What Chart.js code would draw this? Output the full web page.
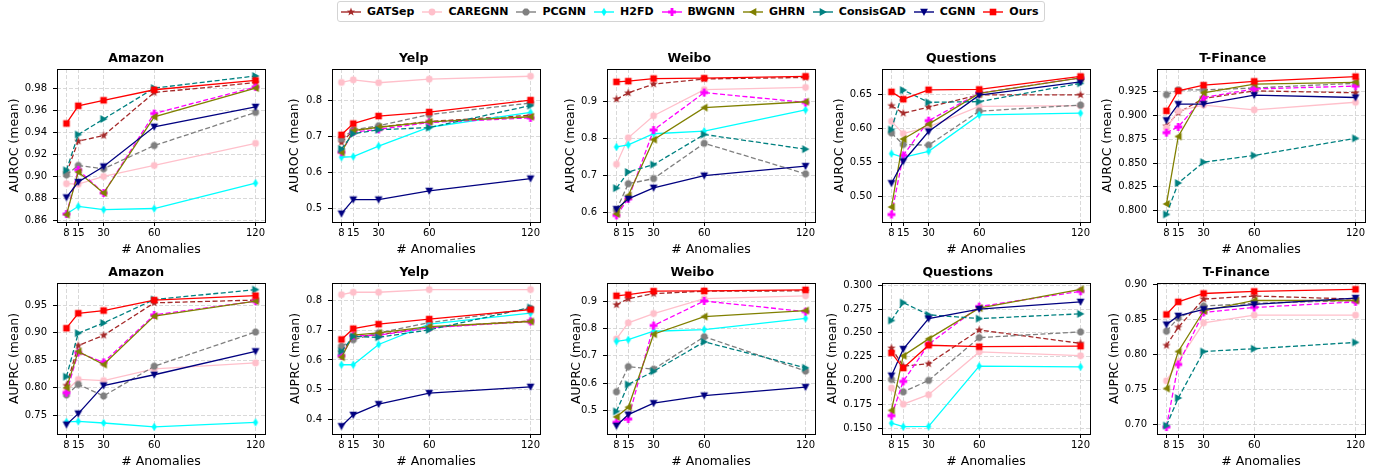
<!DOCTYPE html>
<html>
<head>
<meta charset="utf-8">
<script src="https://cdn.jsdelivr.net/npm/chart.js@4.4.0/dist/chart.umd.min.js"></script>
<style>
  body { margin: 0; background: #fff; width: 1387px; height: 474px; position: relative; overflow: hidden; }
  .panel { position: absolute; }
  #legend {
    position: absolute; left: 337px; top: 1px; height: 21px; box-sizing: border-box;
    border: 1px solid #d4d4d4; border-radius: 3px; display: flex; align-items: center;
    padding: 0 5px 0 3px; font: bold 11px 'DejaVu Sans', sans-serif; white-space: nowrap; color: #000;
  }
  #legend .item { display: flex; align-items: center; margin-right: 8px; }
  #legend .item:last-child { margin-right: 0; }
  #legend canvas { margin-right: 6px; }
</style>
</head>
<body>
<div id="legend"></div>
<script>
// x positions (number of anomalies)
const anomalies = [8, 15, 30, 60, 120];
const methods = ["GATSep", "CAREGNN", "PCGNN", "H2FD", "BWGNN", "GHRN", "ConsisGAD", "CGNN", "Ours"];

// values per panel, one row per method (same order as methods)
const amazonAuroc = [
  [0.903, 0.932, 0.937, 0.976, 0.985],
  [0.8935, 0.893, 0.900, 0.910, 0.930],
  [0.9015, 0.910, 0.907, 0.928, 0.958],
  [0.866, 0.873, 0.870, 0.871, 0.894],
  [0.866, 0.906, 0.885, 0.957, 0.981],
  [0.8655, 0.904, 0.885, 0.954, 0.980],
  [0.9056, 0.938, 0.952, 0.980, 0.991],
  [0.881, 0.895, 0.909, 0.945, 0.963],
  [0.948, 0.964, 0.969, 0.9785, 0.987]
];
const yelpAuroc = [
  [0.683, 0.716, 0.725, 0.741, 0.758],
  [0.849, 0.856, 0.848, 0.858, 0.866],
  [0.693, 0.718, 0.729, 0.760, 0.792],
  [0.642, 0.644, 0.673, 0.725, 0.766],
  [0.656, 0.712, 0.719, 0.738, 0.751],
  [0.655, 0.716, 0.725, 0.740, 0.754],
  [0.665, 0.707, 0.718, 0.724, 0.785],
  [0.486, 0.525, 0.525, 0.549, 0.583],
  [0.704, 0.735, 0.756, 0.767, 0.800]
];
const weiboAuroc = [
  [0.907, 0.924, 0.948, 0.962, 0.966],
  [0.730, 0.802, 0.862, 0.933, 0.939],
  [0.606, 0.677, 0.691, 0.787, 0.704],
  [0.777, 0.783, 0.813, 0.820, 0.878],
  [0.591, 0.636, 0.823, 0.925, 0.898],
  [0.595, 0.645, 0.797, 0.884, 0.900],
  [0.665, 0.709, 0.729, 0.811, 0.771],
  [0.608, 0.636, 0.666, 0.699, 0.725],
  [0.954, 0.956, 0.963, 0.964, 0.969]
];
const questionsAuroc = [
  [0.633, 0.622, 0.631, 0.649, 0.649],
  [0.610, 0.592, 0.602, 0.632, 0.633],
  [0.593, 0.576, 0.575, 0.625, 0.634],
  [0.5625, 0.557, 0.566, 0.6195, 0.622],
  [0.473, 0.560, 0.611, 0.6515, 0.674],
  [0.484, 0.584, 0.606, 0.651, 0.674],
  [0.598, 0.656, 0.638, 0.639, 0.666],
  [0.519, 0.551, 0.595, 0.6485, 0.668],
  [0.6534, 0.6426, 0.6564, 0.657, 0.676]
];
const tfinanceAuroc = [
  [0.889, 0.903, 0.918, 0.926, 0.924],
  [0.887, 0.905, 0.911, 0.906, 0.914],
  [0.922, 0.927, 0.927, 0.929, 0.934],
  [null, null, null, null, null],
  [0.882, 0.888, 0.919, 0.928, 0.931],
  [0.807, 0.878, 0.924, 0.933, 0.935],
  [0.796, 0.829, 0.851, 0.858, 0.876],
  [0.895, 0.912, 0.912, 0.9215, 0.919],
  [0.905, 0.926, 0.932, 0.936, 0.941]
];
const amazonAuprc = [
  [0.804, 0.8765, 0.895, 0.954, 0.959],
  [0.795, 0.815, 0.813, 0.834, 0.845],
  [0.787, 0.806, 0.785, 0.839, 0.901],
  [0.738, 0.739, 0.736, 0.729, 0.737],
  [0.791, 0.864, 0.846, 0.932, 0.957],
  [0.800, 0.866, 0.842, 0.930, 0.957],
  [0.820, 0.899, 0.9175, 0.960, 0.978],
  [0.733, 0.753, 0.804, 0.8235, 0.866],
  [0.908, 0.935, 0.940, 0.959, 0.967]
];
const yelpAuprc = [
  [0.626, 0.677, 0.685, 0.709, 0.731],
  [0.819, 0.827, 0.827, 0.836, 0.836],
  [0.646, 0.668, 0.691, 0.725, 0.772],
  [0.584, 0.584, 0.652, 0.720, 0.757],
  [0.614, 0.681, 0.683, 0.708, 0.729],
  [0.609, 0.683, 0.691, 0.712, 0.729],
  [0.629, 0.679, 0.676, 0.701, 0.776],
  [0.378, 0.416, 0.452, 0.489, 0.510],
  [0.669, 0.705, 0.720, 0.737, 0.769]
];
const weiboAuprc = [
  [0.887, 0.909, 0.928, 0.937, 0.938],
  [0.762, 0.821, 0.855, 0.910, 0.920],
  [0.568, 0.660, 0.651, 0.770, 0.644],
  [0.753, 0.759, 0.790, 0.796, 0.837],
  [0.456, 0.468, 0.811, 0.901, 0.862],
  [0.476, 0.511, 0.779, 0.844, 0.866],
  [0.496, 0.595, 0.643, 0.751, 0.656],
  [0.443, 0.484, 0.526, 0.554, 0.585],
  [0.920, 0.924, 0.937, 0.938, 0.942]
];
const questionsAuprc = [
  [0.234, 0.215, 0.2175, 0.253, 0.239],
  [0.192, 0.175, 0.185, 0.230, 0.226],
  [0.201, 0.188, 0.200, 0.245, 0.251],
  [0.155, 0.1514, 0.1517, 0.215, 0.2143],
  [0.163, 0.199, 0.238, 0.2776, 0.2937],
  [0.1685, 0.226, 0.2437, 0.276, 0.2958],
  [0.263, 0.2818, 0.269, 0.265, 0.270],
  [0.205, 0.233, 0.265, 0.275, 0.2825],
  [0.229, 0.213, 0.237, 0.2355, 0.236]
];
const tfinanceAuprc = [
  [0.8126, 0.8387, 0.879, 0.8834, 0.879],
  [0.762, 0.790, 0.845, 0.856, 0.856],
  [0.833, 0.852, 0.869, 0.873, 0.877],
  [null, null, null, null, null],
  [0.696, 0.7855, 0.860, 0.867, 0.875],
  [0.751, 0.804, 0.862, 0.877, 0.877],
  [0.698, 0.7375, 0.804, 0.808, 0.817],
  [0.8425, 0.855, 0.8644, 0.8715, 0.8805],
  [0.857, 0.875, 0.887, 0.890, 0.893]
];

// y tick labels per panel
const amazonAurocTicks = [0.86, 0.88, 0.90, 0.92, 0.94, 0.96, 0.98];
const yelpAurocTicks = [0.5, 0.6, 0.7, 0.8];
const weiboAurocTicks = [0.6, 0.7, 0.8, 0.9];
const questionsAurocTicks = [0.50, 0.55, 0.60, 0.65];
const tfinanceAurocTicks = [0.800, 0.825, 0.850, 0.875, 0.900, 0.925];
const amazonAuprcTicks = [0.75, 0.80, 0.85, 0.90, 0.95];
const yelpAuprcTicks = [0.4, 0.5, 0.6, 0.7, 0.8];
const weiboAuprcTicks = [0.5, 0.6, 0.7, 0.8, 0.9];
const questionsAuprcTicks = [0.150, 0.175, 0.200, 0.225, 0.250, 0.275, 0.300];
const tfinanceAuprcTicks = [0.70, 0.75, 0.80, 0.85, 0.90];

const colors = ["#a52a2a", "#ffc0cb", "#808080", "#00ffff", "#ff00ff", "#808000", "#008080", "#000080", "#ff0000"];
const markers = ["star", "circle", "octagon", "thinDiamond", "plus", "triLeft", "triRight", "triDown", "square"];
const dashed = [true, false, true, false, true, false, true, false, false];

const panels = [
  { title: "Amazon", metric: "AUROC", values: amazonAuroc, ticks: amazonAurocTicks, digits: 2, range: [0.8588, 0.9973], row: 0, col: 0, labelX: 15 },
  { title: "Yelp", metric: "AUROC", values: yelpAuroc, ticks: yelpAurocTicks, digits: 1, range: [0.463, 0.886], row: 0, col: 1, labelX: 20 },
  { title: "Weibo", metric: "AUROC", values: weiboAuroc, ticks: weiboAurocTicks, digits: 1, range: [0.573, 0.989], row: 0, col: 2, labelX: 21 },
  { title: "Questions", metric: "AUROC", values: questionsAuroc, ticks: questionsAurocTicks, digits: 2, range: [0.462, 0.687], row: 0, col: 3, labelX: 15 },
  { title: "T-Finance", metric: "AUROC", values: tfinanceAuroc, ticks: tfinanceAurocTicks, digits: 3, range: [0.788, 0.949], row: 0, col: 4, labelX: 8 },
  { title: "Amazon", metric: "AUPRC", values: amazonAuprc, ticks: amazonAuprcTicks, digits: 2, range: [0.716, 0.990], row: 1, col: 0, labelX: 15 },
  { title: "Yelp", metric: "AUPRC", values: yelpAuprc, ticks: yelpAuprcTicks, digits: 1, range: [0.352, 0.858], row: 1, col: 1, labelX: 21 },
  { title: "Weibo", metric: "AUPRC", values: weiboAuprc, ticks: weiboAuprcTicks, digits: 1, range: [0.413, 0.967], row: 1, col: 2, labelX: 27 },
  { title: "Questions", metric: "AUPRC", values: questionsAuprc, ticks: questionsAuprcTicks, digits: 3, range: [0.1437, 0.3024], row: 1, col: 3, labelX: 8 },
  { title: "T-Finance", metric: "AUPRC", values: tfinanceAuprc, ticks: tfinanceAuprcTicks, digits: 2, range: [0.686, 0.902], row: 1, col: 4, labelX: 15 }
];

const FONT = "'DejaVu Sans', sans-serif";
Chart.defaults.font.family = FONT;
Chart.defaults.color = "#000";

// matplotlib-like marker shapes
function drawMarker(c, shape, color, x, y) {
  c.fillStyle = color;
  c.beginPath();
  const poly = pts => {
    pts.forEach(([px, py], k) => (k ? c.lineTo(x + px, y + py) : c.moveTo(x + px, y + py)));
    c.closePath();
  };
  const ring = (n, r, rot) => {
    const pts = [];
    for (let k = 0; k < n; k++) {
      const a = rot + (k * 2 * Math.PI) / n;
      pts.push([r * Math.cos(a), r * Math.sin(a)]);
    }
    return pts;
  };
  if (shape === "square") c.rect(x - 3.3, y - 3.3, 6.6, 6.6);
  else if (shape === "circle") c.arc(x, y, 3.4, 0, Math.PI * 2);
  else if (shape === "octagon") poly(ring(8, 3.7, Math.PI / 8));
  else if (shape === "star") {
    const pts = [];
    for (let k = 0; k < 10; k++) {
      const r = k % 2 ? 1.8 : 4.4;
      const a = -Math.PI / 2 + (k * Math.PI) / 5;
      pts.push([r * Math.cos(a), r * Math.sin(a)]);
    }
    poly(pts);
  } else if (shape === "thinDiamond") poly([[0, -4.2], [2.6, 0], [0, 4.2], [-2.6, 0]]);
  else if (shape === "plus") {
    const a = 1.4, b = 3.9;
    poly([[-a, -b], [a, -b], [a, -a], [b, -a], [b, a], [a, a], [a, b], [-a, b], [-a, a], [-b, a], [-b, -a], [-a, -a]]);
  } else if (shape === "triDown") poly([[-3.9, -3.3], [3.9, -3.3], [0, 3.9]]);
  else if (shape === "triLeft") poly([[3.3, -3.9], [3.3, 3.9], [-3.9, 0]]);
  else if (shape === "triRight") poly([[-3.3, -3.9], [-3.3, 3.9], [3.9, 0]]);
  c.fill();
}

function markerImage(shape, color) {
  const cv = document.createElement("canvas");
  cv.width = 12;
  cv.height = 12;
  drawMarker(cv.getContext("2d"), shape, color, 6, 6);
  return cv;
}
const markerImages = methods.map((m, i) => markerImage(markers[i], colors[i]));

// legend across the top
const legendEl = document.getElementById("legend");
methods.forEach((name, i) => {
  const item = document.createElement("span");
  item.className = "item";
  const icon = document.createElement("canvas");
  icon.width = 20;
  icon.height = 12;
  const c = icon.getContext("2d");
  c.strokeStyle = colors[i];
  c.lineWidth = 1.4;
  c.beginPath();
  c.moveTo(0, 6);
  c.lineTo(20, 6);
  c.stroke();
  drawMarker(c, markers[i], colors[i], 10, 6);
  const label = document.createElement("span");
  label.textContent = name;
  item.append(icon, label);
  legendEl.append(item);
});

// box around the plot area, like matplotlib spines
const framePlugin = {
  id: "frame",
  afterDraw(chart) {
    const { ctx, chartArea: a } = chart;
    ctx.save();
    ctx.strokeStyle = "#000";
    ctx.lineWidth = 1;
    ctx.strokeRect(Math.round(a.left) + 0.5, Math.round(a.top) + 0.5,
      Math.round(a.right) - Math.round(a.left), Math.round(a.bottom) - Math.round(a.top));
    ctx.restore();
  }
};

const rows = [{ top: 40, height: 217 }, { top: 254, height: 215 }];
const COL_W = 275, PLOT_LEFT = 57, PLOT_W = 208;

panels.forEach(p => {
  const left = p.col * COL_W;
  const width = p.col === 4 ? 1387 - left : COL_W;
  const wrap = document.createElement("div");
  wrap.className = "panel";
  wrap.style.left = left + "px";
  wrap.style.top = rows[p.row].top + "px";
  const canvas = document.createElement("canvas");
  canvas.width = width;
  canvas.height = rows[p.row].height;
  canvas.style.width = width + "px";
  canvas.style.height = rows[p.row].height + "px";
  wrap.appendChild(canvas);
  document.body.appendChild(wrap);

  const padLeft = p.labelX - 7.5;
  const padRight = width - PLOT_LEFT - PLOT_W;

  new Chart(canvas.getContext("2d"), {
    type: "line",
    data: {
      datasets: methods.map((name, i) => ({
        label: name,
        data: anomalies.map((x, k) => ({ x: x, y: p.values[i][k] })),
        borderColor: colors[i],
        backgroundColor: colors[i],
        borderWidth: 1.3,
        borderDash: dashed[i] ? [5, 2.5] : [],
        pointStyle: markerImages[i],
        pointRadius: 4,
        fill: false,
        tension: 0,
        order: methods.length - i
      }))
    },
    options: {
      responsive: false,
      animation: false,
      events: [],
      layout: { padding: { left: padLeft, right: padRight, top: 0, bottom: 0 } },
      plugins: {
        legend: { display: false },
        tooltip: { enabled: false },
        title: {
          display: true,
          text: p.title,
          color: "#000",
          font: { family: FONT, size: 12.5, weight: "bold" },
          padding: { top: 11, bottom: 3 }
        }
      },
      scales: {
        x: {
          type: "linear",
          min: 2.4,
          max: 125.6,
          afterBuildTicks: s => { s.ticks = anomalies.map(v => ({ value: v })); },
          afterFit: s => { s.height = 35; s.paddingLeft = 0; s.paddingRight = 0; },
          ticks: { autoSkip: false, maxRotation: 0, color: "#000", font: { size: 10 }, padding: 1, callback: v => String(v) },
          grid: { color: "#cfcfcf", lineWidth: 0.8, tickLength: 4, tickColor: "#000", tickWidth: 1 },
          border: { display: false, dash: [4, 2] },
          title: { display: true, text: "# Anomalies", color: "#000", font: { size: 12.5 }, padding: 0 }
        },
        y: {
          min: p.range[0],
          max: p.range[1],
          afterBuildTicks: s => { s.ticks = p.ticks.map(v => ({ value: v })); },
          afterFit: s => { s.width = PLOT_LEFT - padLeft; s.paddingTop = 0; s.paddingBottom = 0; },
          ticks: { autoSkip: false, color: "#000", font: { size: 10 }, padding: 6, callback: v => Number(v).toFixed(p.digits) },
          grid: { color: "#cfcfcf", lineWidth: 0.8, tickLength: 4, tickColor: "#000", tickWidth: 1 },
          border: { display: false, dash: [4, 2] },
          title: { display: true, text: p.metric + " (mean)", color: "#000", font: { size: 12.5 }, padding: 0 }
        }
      }
    },
    plugins: [framePlugin]
  });
});
</script>
</body>
</html>
